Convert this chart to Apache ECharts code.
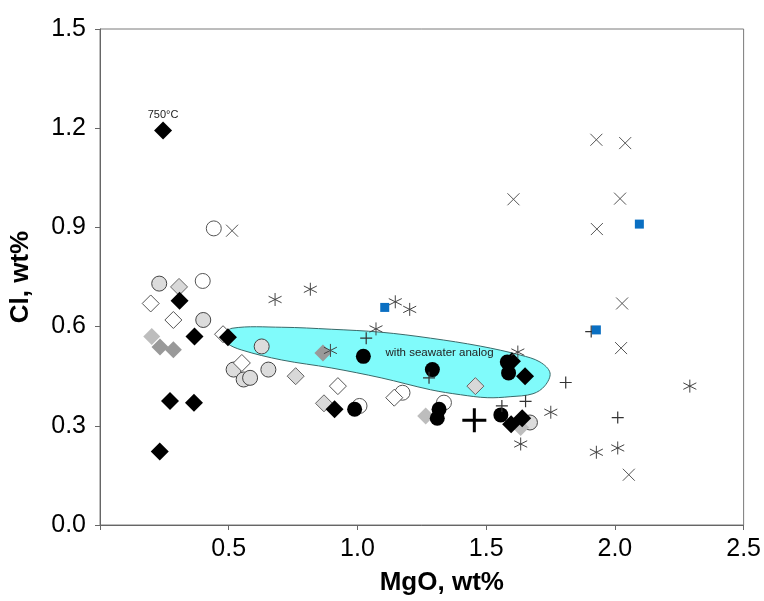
<!DOCTYPE html>
<html>
<head>
<meta charset="utf-8">
<script src="https://cdn.jsdelivr.net/npm/echarts@6/dist/echarts.min.js"></script>
<style>html,body{margin:0;padding:0;background:#fff}#c{width:764px;height:601px}</style>
</head>
<body>
<div id="c"></div>
<script>
// ---- data (MgO wt%, Cl wt%) ----
const blackDiamond = [[0.245,1.193],[0.309,0.678],[0.367,0.570],[0.497,0.568],[0.272,0.375],[0.365,0.370],[0.232,0.222],[0.911,0.350],[1.600,0.495],[1.651,0.450],[1.597,0.305],[1.640,0.323]];
const lightDiamond = [[0.307,0.720],[0.760,0.450],[0.870,0.368],[1.458,0.420]];
const silverDiamond = [[0.201,0.570],[1.265,0.330],[1.634,0.295]];
const grayDiamond = [[0.233,0.538],[0.285,0.530],[0.866,0.520]];
const whiteDiamond = [[0.197,0.670],[0.285,0.620],[0.478,0.577],[0.551,0.490],[0.924,0.420],[1.143,0.385]];
const lightCircle = [[0.230,0.730],[0.401,0.620],[0.628,0.540],[0.519,0.470],[0.558,0.440],[0.583,0.445],[0.654,0.470],[1.670,0.310]];
const openCircle = [[0.399,0.738],[0.442,0.897],[1.008,0.360],[1.175,0.400],[1.336,0.370]];
const blackCircle = [[1.023,0.510],[1.291,0.470],[0.989,0.350],[1.317,0.350],[1.310,0.323],[1.582,0.493],[1.587,0.460],[1.557,0.333]];
const xCross = [[0.513,0.890],[1.606,0.985],[1.928,1.165],[2.040,1.155],[2.020,0.987],[1.930,0.895],[2.028,0.670],[2.024,0.535],[2.054,0.152]];
const asterisk = [[0.680,0.682],[0.817,0.713],[0.895,0.528],[1.072,0.593],[1.147,0.675],[1.203,0.652],[1.623,0.523],[1.751,0.341],[1.634,0.245],[1.928,0.220],[2.011,0.233],[2.291,0.420]];
const plusMark = [[1.034,0.565],[1.278,0.445],[1.561,0.360],[1.653,0.374],[1.809,0.431],[2.011,0.325],[1.908,0.585]];
const blueSquare = [[1.106,0.658],[2.095,0.910],[1.928,0.590]];
const bigPlus = [[1.454,0.317]];
// seawater-analog field outline
const fieldX = [0.482,0.513,0.706,0.898,1.092,1.284,1.477,1.632,1.709,1.748,1.728,1.682,1.593,1.504,1.400,1.284,1.092,0.898,0.706,0.551,0.493];
const fieldY = [0.571,0.595,0.598,0.592,0.583,0.565,0.541,0.514,0.493,0.460,0.421,0.397,0.388,0.385,0.394,0.409,0.445,0.475,0.499,0.529,0.550];
const fieldLabel = {text:'with seawater analog', x:1.319, y:0.520};
const tempLabel = '750°C';
const xTicks = [0,0.5,1.0,1.5,2.0,2.5];
const yTicks = [0,0.3,0.6,0.9,1.2,1.5];

const FONT = 'Liberation Sans, Arial, sans-serif';
const P_X = 'path://M0,0L10,10M10,0L0,10';
const P_AST = 'path://M5,0L5,10M0.67,2.5L9.33,7.5M0.67,7.5L9.33,2.5';
const P_PLUS = 'path://M5,0L5,10M0,5L10,5';

function sc(name, data, symbol, size, style, z) {
  return {type:'scatter', name, data, symbol, symbolSize:size,
    itemStyle:Object.assign({opacity:1}, style), z:z||3,
    emphasis:{disabled:true}, animation:false};
}

const chart = echarts.init(document.getElementById('c'), null, {renderer:'canvas'});
chart.setOption({
  backgroundColor:'#fff',
  animation:false,
  grid:{left:97, right:19, top:29, bottom:73, show:true, borderColor:'#7a7a7a', borderWidth:1, backgroundColor:'transparent'},
  xAxis:{
    type:'value', min:xTicks[0], max:xTicks[xTicks.length-1], interval:0.5,
    name:'MgO, wt%', nameLocation:'middle', nameGap:45,
    nameTextStyle:{fontFamily:FONT, fontSize:26, fontWeight:'bold', color:'#000', padding:[0,0,0,40]},
    axisLine:{show:true, lineStyle:{color:'#666', width:1}},
    axisTick:{show:true, inside:false, length:5, lineStyle:{color:'#666'}},
    axisLabel:{fontFamily:FONT, fontSize:25, color:'#000', margin:12,
      formatter:v => v === 0 ? '' : v.toFixed(1)},
    splitLine:{show:false}
  },
  yAxis:{
    type:'value', min:yTicks[0], max:yTicks[yTicks.length-1], interval:0.3,
    name:'Cl, wt%', nameLocation:'middle', nameGap:66,
    nameTextStyle:{fontFamily:FONT, fontSize:26, fontWeight:'bold', color:'#000'},
    axisLine:{show:true, lineStyle:{color:'#666', width:1}},
    axisTick:{show:true, inside:false, length:5, lineStyle:{color:'#666'}},
    axisLabel:{fontFamily:FONT, fontSize:25, color:'#000', margin:14,
      formatter:v => v.toFixed(1)},
    splitLine:{show:false}
  },
  series:[
    {
      type:'custom', name:'field', z:1, animation:false, silent:true,
      data:[[fieldX[0], fieldY[0]]],
      renderItem:function(params, api){
        const pts = fieldX.map((x,i)=>api.coord([x, fieldY[i]]));
        const c = api.coord([fieldLabel.x, fieldLabel.y]);
        return {type:'group', children:[
          {type:'polygon', shape:{points:pts, smooth:0.35},
           style:{fill:'#80fbfb', stroke:'#3a6a6a', lineWidth:1}},
          {type:'text', x:c[0], y:c[1],
           style:{text:fieldLabel.text, fill:'#222', fontSize:11.5, fontFamily:FONT,
                  align:'center', verticalAlign:'middle', textAlign:'center', textVerticalAlign:'middle'}}
        ]};
      }
    },
    sc('openCircle', openCircle, 'circle', 15, {color:'#fff', borderColor:'#555', borderWidth:1}),
    sc('lightCircle', lightCircle, 'circle', 15, {color:'#dcdcdc', borderColor:'#444', borderWidth:1}),
    sc('whiteDiamond', whiteDiamond, 'diamond', 17, {color:'#fff', borderColor:'#555', borderWidth:1}),
    sc('lightDiamond', lightDiamond, 'diamond', 17, {color:'#d8d8d8', borderColor:'#666', borderWidth:1}),
    sc('silverDiamond', silverDiamond, 'diamond', 17, {color:'#bdbdbd'}),
    sc('grayDiamond', grayDiamond, 'diamond', 17, {color:'#999999'}),
    sc('blackCircle', blackCircle, 'circle', 15, {color:'#000'}),
    {
      type:'scatter', name:'blackDiamond', symbol:'diamond', symbolSize:18, z:3,
      itemStyle:{color:'#000', opacity:1}, emphasis:{disabled:true}, animation:false,
      data: blackDiamond.map((p,i)=> i===0 ? {value:p, label:{show:true, position:'top', distance:1,
        formatter:tempLabel, fontFamily:FONT, fontSize:11, color:'#222'}} : p)
    },
    sc('xCross', xCross, P_X, 12, {color:'none', borderColor:'#555', borderWidth:1}),
    sc('asterisk', asterisk, P_AST, 13, {color:'none', borderColor:'#444', borderWidth:1}),
    sc('plus', plusMark, P_PLUS, 12, {color:'none', borderColor:'#333', borderWidth:1.2}),
    sc('bigPlus', bigPlus, P_PLUS, 24, {color:'none', borderColor:'#000', borderWidth:3}),
    sc('blueSquare', blueSquare, 'rect', 9, {color:'#0a6fc2'})
  ]
});
</script>
</body>
</html>
